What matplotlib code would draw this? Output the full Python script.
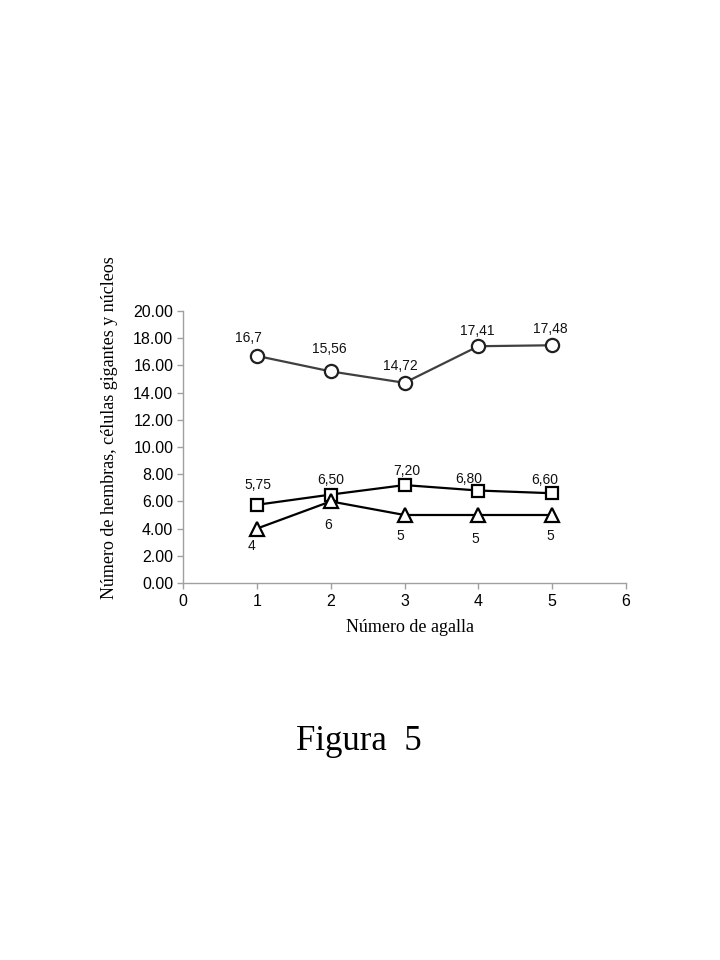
import matplotlib
matplotlib.use("Agg")
import matplotlib.pyplot as plt

x = [1, 2, 3, 4, 5]
circles = [16.70, 15.56, 14.72, 17.41, 17.48]
squares = [5.75, 6.50, 7.20, 6.80, 6.60]
triangles = [4, 6, 5, 5, 5]
circle_labels = ["16,7", "15,56", "14,72", "17,41", "17,48"]
square_labels = ["5,75", "6,50", "7,20", "6,80", "6,60"]
triangle_labels = ["4", "6", "5", "5", "5"]
yticks = [0, 2, 4, 6, 8, 10, 12, 14, 16, 18, 20]
xticks = [0, 1, 2, 3, 4, 5, 6]

sans = ["Liberation Sans", "DejaVu Sans"]
serif = ["Liberation Serif", "DejaVu Serif"]

fig = plt.figure(figsize=(7.2, 9.6), dpi=100)
ax = fig.add_axes([183/720, 1-583/960, (626-183)/720, (583-311)/960])

ax.plot(x, circles, color="#404040", lw=1.6, marker="o", ms=9.5, mfc="white",
        mec="#202020", mew=1.6, zorder=3)
ax.plot(x, squares, color="black", lw=1.6, marker="s", ms=9, mfc="white",
        mec="black", mew=1.6, zorder=3)
ax.plot(x, triangles, color="black", lw=1.6, marker="^", ms=9.5, mfc="white",
        mec="black", mew=1.6, zorder=4)

px = 72/100
c_off = [(-8, 18), (-1, 22), (-4, 17), (-1, 15), (-2, 16)]
s_off = [(1, 20), (0, 15), (2, 14), (-10, 12), (-7, 13)]
t_off = [(-5, -17), (-3, -24), (-4, -21), (-3, -24), (-2, -21)]
for offs, ys, labs in [(c_off, circles, circle_labels), (s_off, squares, square_labels),
                       (t_off, triangles, triangle_labels)]:
    for xi, yi, lab, (dx, dy) in zip(x, ys, labs, offs):
        ax.annotate(lab, (xi, yi), xytext=(dx*px, dy*px), textcoords="offset points",
                    ha="center", va="center", fontsize=10, family=sans, color="#111111")

ax.set_xlim(0, 6)
ax.set_ylim(0, 20)
ax.set_xticks(xticks)
ax.set_yticks(yticks)
ax.set_xticklabels([str(v) for v in xticks], family=sans, fontsize=11.5)
ax.set_yticklabels([f"{v:.2f}" for v in yticks], family=sans, fontsize=11.5)
for s in ["top", "right"]:
    ax.spines[s].set_visible(False)
for s in ["left", "bottom"]:
    ax.spines[s].set_color("#a0a0a0")
    ax.spines[s].set_linewidth(1.0)
ax.tick_params(axis="both", colors="#a0a0a0", labelcolor="black", length=4, width=1.0)
ax.tick_params(axis="x", pad=4)
ax.tick_params(axis="y", pad=3)

fig.text(410/720, 1-628/960, "Número de agalla", ha="center", va="center",
         family=serif, fontsize=13)
fig.text(110/720, 1-428/960, "Número de hembras, células gigantes y núcleos",
         ha="center", va="center", rotation=90, family=serif, fontsize=13)
fig.text(359/720, 1-742/960, "Figura  5", ha="center", va="center",
         family=serif, fontsize=25)

fig.savefig("out.png", dpi=100)
